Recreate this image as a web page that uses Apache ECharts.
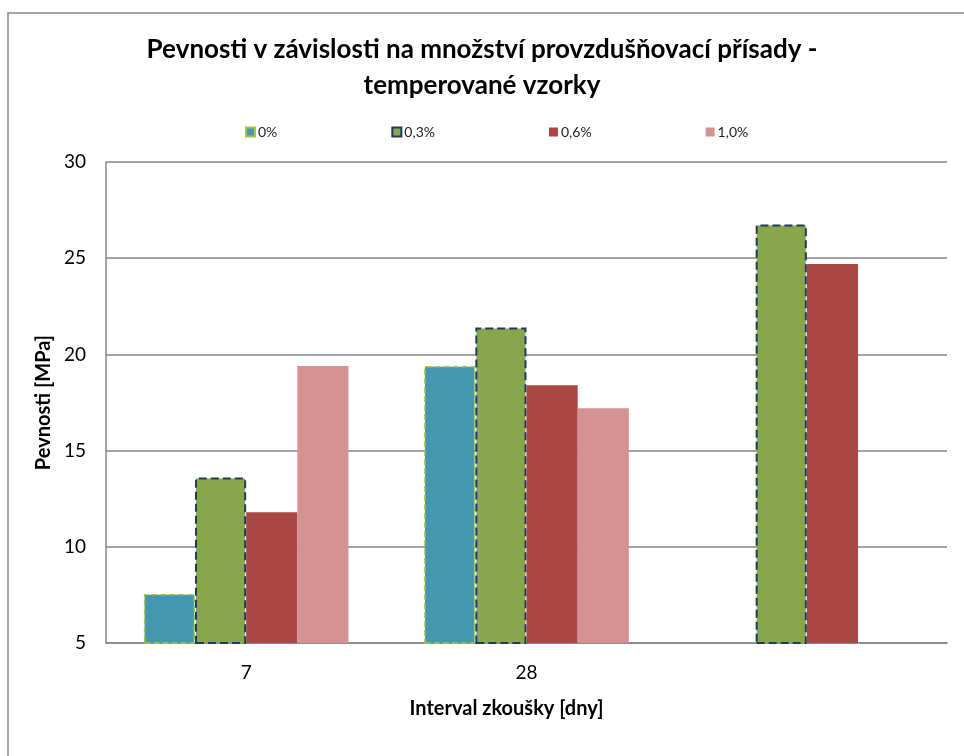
<!DOCTYPE html>
<html>
<head>
<meta charset="utf-8">
<script src="https://cdn.jsdelivr.net/npm/echarts@6/dist/echarts.min.js"></script>
<style>
  html, body { margin: 0; padding: 0; background: #fff; }
  #chart { width: 964px; height: 756px; }
</style>
</head>
<body>
<div id="chart"></div>
<script>
// Test intervals (days); the third group has no label
const categories = ['7', '28', ''];
const seriesNames = ['0%', '0,3%', '0,6%', '1,0%'];
// Strength [MPa] per air-entraining admixture dosage
const values0 = [7.55, 19.4, null];
const values03 = [13.6, 21.4, 26.75];
const values06 = [11.8, 18.4, 24.7];
const values10 = [19.4, 17.2, null];
const yTicks = { min: 5, max: 30, interval: 5 };

const FONT = 'Lato, "Open Sans", sans-serif';
const chart = echarts.init(document.getElementById('chart'));

const styles = [
  { color: '#4398B0', borderColor: '#A9C24A', borderWidth: 1.5, borderType: 'dashed' },
  { color: '#8AA64C', borderColor: '#1F3A60', borderWidth: 2, borderType: 'dashed' },
  { color: '#AA4744', borderWidth: 0 },
  { color: '#D49392', borderWidth: 0 }
];
const dataSets = [values0, values03, values06, values10];

chart.setOption({
  animation: false,
  backgroundColor: '#fff',
  graphic: [{
    type: 'rect',
    shape: { x: 8, y: 13, width: 1000, height: 800 },
    style: { fill: 'none', stroke: '#868686', lineWidth: 1.5 },
    silent: true
  }],
  title: {
    text: 'Pevnosti v závislosti na množství provzdušňovací přísady -\ntemperované vzorky',
    left: 'center',
    top: 27,
    textStyle: { fontFamily: FONT, fontWeight: 'bold', fontSize: 26, lineHeight: 36, color: '#000' }
  },
  legend: {
    left: 240,
    top: 120,
    itemGap: 114,
    itemWidth: 9,
    itemHeight: 9,
    icon: 'rect',
    textStyle: { fontFamily: FONT, fontSize: 14, color: '#222', padding: [0, 0, 0, -2] },
    data: seriesNames
  },
  grid: { left: 106, right: 17, top: 162, bottom: 113 },
  xAxis: {
    type: 'category',
    data: categories,
    name: 'Interval zkoušky [dny]',
    nameLocation: 'middle',
    nameGap: 56,
    nameTextStyle: { fontFamily: FONT, fontWeight: 'bold', fontSize: 20, color: '#000', padding: [0, 40, 0, 0] },
    axisLine: { lineStyle: { color: '#868686', width: 1.5 } },
    axisTick: { show: false },
    axisLabel: { fontFamily: FONT, fontSize: 19, color: '#000', margin: 20 }
  },
  yAxis: {
    type: 'value',
    min: yTicks.min,
    max: yTicks.max,
    interval: yTicks.interval,
    name: 'Pevnosti [MPa]',
    nameLocation: 'middle',
    nameGap: 50,
    nameTextStyle: { fontFamily: FONT, fontWeight: 'bold', fontSize: 20, color: '#000' },
    axisLine: { show: true, lineStyle: { color: '#868686', width: 1.5 } },
    axisTick: { show: false },
    axisLabel: { fontFamily: FONT, fontSize: 19, color: '#000', margin: 20 },
    splitLine: { lineStyle: { color: '#868686', width: 1.5 } }
  },
  series: seriesNames.map((name, i) => ({
    name: name,
    type: 'bar',
    data: dataSets[i],
    barGap: '0%',
    barCategoryGap: '27%',
    itemStyle: styles[i]
  }))
});
</script>
</body>
</html>
